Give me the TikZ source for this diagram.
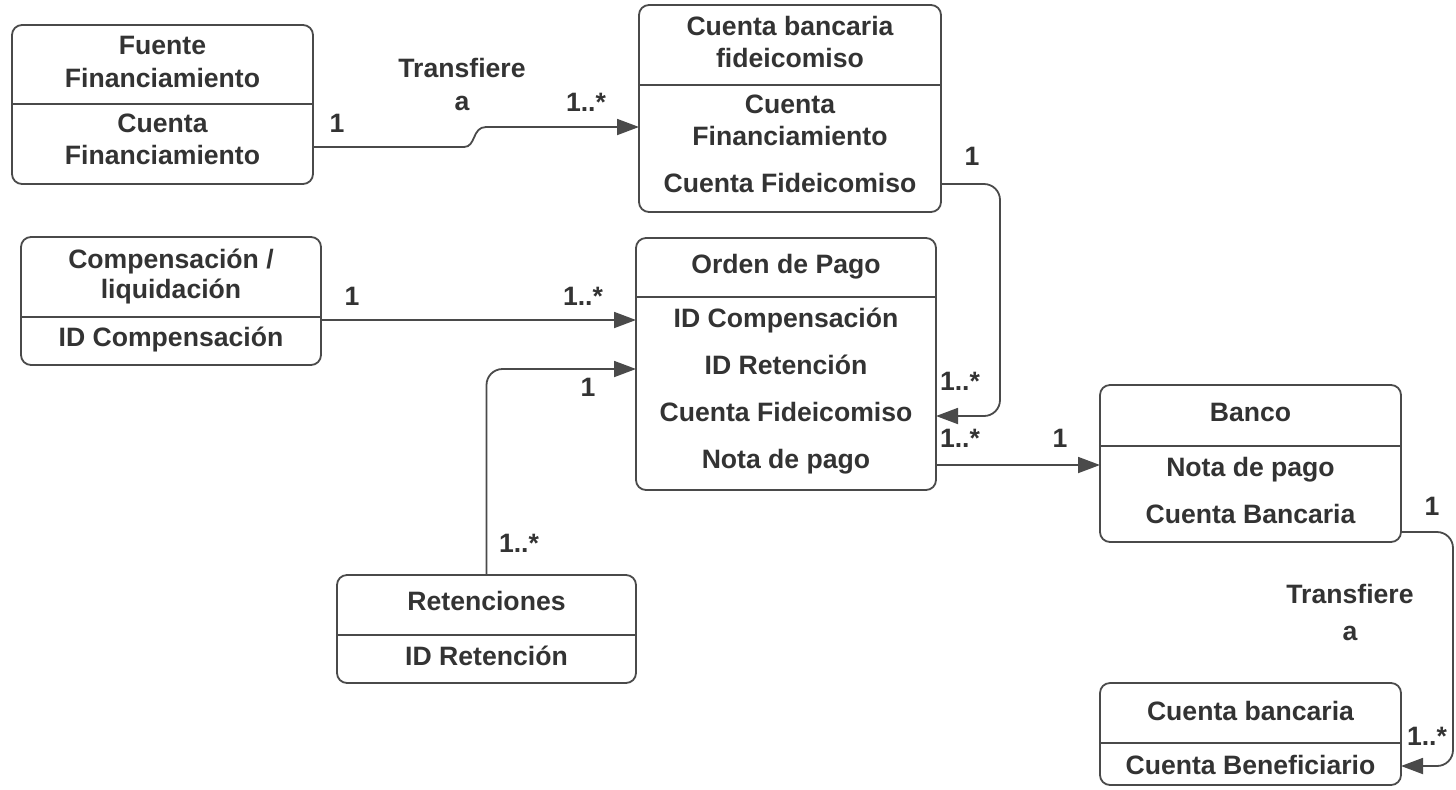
\documentclass[tikz,border=0pt]{standalone}
\usepackage{fontspec}
\setmainfont{Liberation Sans}
\usetikzlibrary{arrows.meta}
\definecolor{linec}{HTML}{4A4A4A}
\definecolor{textc}{HTML}{333333}
\tikzset{
  box/.style={draw=linec, line width=0.9pt, rounded corners=5pt, inner sep=0pt, outer sep=0pt},
  divider/.style={draw=linec, line width=0.8pt},
  txt/.style={anchor=base, inner sep=0pt, text=textc, font=\fontsize{13.3pt}{16pt}\selectfont\bfseries},
  conn/.style={draw=linec, line width=0.9pt, -{Triangle[length=11pt,width=8pt]}}
}
\begin{document}
\begin{tikzpicture}[x=0.5pt,y=-0.5pt]
\useasboundingbox (0,0) rectangle (1456,789);
% boxes
\node[box, minimum width=150.5pt, minimum height=79.5pt] (fuente) at (162.5,104.5) {};
\node[box, minimum width=151pt, minimum height=103.5pt] (fideic) at (790,108.5) {};
\node[box, minimum width=150pt, minimum height=64pt] (comp) at (171,301) {};
\node[box, minimum width=150pt, minimum height=126pt] (orden) at (786,364) {};
\node[box, minimum width=150.5pt, minimum height=78.5pt] (banco) at (1250.5,463.5) {};
\node[box, minimum width=149.5pt, minimum height=54pt] (ret) at (486.5,629) {};
\node[box, minimum width=150.5pt, minimum height=51pt] (cb) at (1250.5,734) {};
% dividers
\draw[divider] (fuente.west |- 0,104) -- (fuente.east |- 0,104);
\draw[divider] (fideic.west |- 0,85) -- (fideic.east |- 0,85);
\draw[divider] (comp.west |- 0,317) -- (comp.east |- 0,317);
\draw[divider] (orden.west |- 0,297) -- (orden.east |- 0,297);
\draw[divider] (banco.west |- 0,446) -- (banco.east |- 0,446);
\draw[divider] (ret.west |- 0,635) -- (ret.east |- 0,635);
\draw[divider] (cb.west |- 0,743) -- (cb.east |- 0,743);
% box texts
\node[txt] (t1a) at (162.5,54) {Fuente};
\node[txt] (t1b) at (162.5,87) {Financiamiento};
\node[txt] (t1c) at (162.5,132) {Cuenta};
\node[txt] (t1d) at (162.5,164) {Financiamiento};
\node[txt] (t2a) at (790,35) {Cuenta bancaria};
\node[txt] (t2b) at (790,67) {fideicomiso};
\node[txt] (t2c) at (790,113) {Cuenta};
\node[txt] (t2d) at (790,145) {Financiamiento};
\node[txt] (t2e) at (790,192) {Cuenta Fideicomiso};
\node[txt] (t3a) at (171,268) {Compensación /};
\node[txt] (t3b) at (171,298) {liquidación};
\node[txt] (t3c) at (171,346) {ID Compensación};
\node[txt] (t4a) at (786,273) {Orden de Pago};
\node[txt] (t4b) at (786,327) {ID Compensación};
\node[txt] (t4c) at (786,374) {ID Retención};
\node[txt] (t4d) at (786,421) {Cuenta Fideicomiso};
\node[txt] (t4e) at (786,468) {Nota de pago};
\node[txt] (t5a) at (1250.5,421) {Banco};
\node[txt] (t5b) at (1250.5,476) {Nota de pago};
\node[txt] (t5c) at (1250.5,523) {Cuenta Bancaria};
\node[txt] (t6a) at (486.5,610) {Retenciones};
\node[txt] (t6b) at (486.5,665) {ID Retención};
\node[txt] (t7a) at (1250.5,720) {Cuenta bancaria};
\node[txt] (t7b) at (1250.5,774) {Cuenta Beneficiario};
% connectors
\draw[conn] (fuente.east |- 0,147) -- (464,147) .. controls (476,147) and (472,127) .. (486,127) -- (fideic.west |- 0,127);
\draw[conn] (comp.east |- 0,320) -- (orden.west |- 0,320);
\draw[conn, rounded corners=8pt] (ret.north) |- (orden.west |- 0,369);
\draw[conn, rounded corners=8pt] (fideic.east |- 0,184) -- (1000,184) -- (1000,416) -- (orden.east |- 0,416);
\draw[conn] (orden.east |- 0,465) -- (banco.west |- 0,465);
\draw[conn, rounded corners=8pt] (banco.east |- 0,532) -- (1453,532) -- (1453,766) -- (cb.east |- 0,766);
% connector labels
\node[txt] (l1) at (462,77) {Transfiere};
\node[txt] (l2) at (462,110) {a};
\node[txt] (l3) at (337,132) {1};
\node[txt] (l4) at (586,111) {1..*};
\node[txt] (l5) at (352,305) {1};
\node[txt] (l6) at (583,305) {1..*};
\node[txt] (l7) at (588,396) {1};
\node[txt] (l8) at (519,552) {1..*};
\node[txt] (l9) at (972,165) {1};
\node[txt] (l10) at (960,390) {1..*};
\node[txt] (l11) at (960,447) {1..*};
\node[txt] (l12) at (1060,447) {1};
\node[txt] (l13) at (1432,515) {1};
\node[txt] (l14) at (1350,603) {Transfiere};
\node[txt] (l15) at (1350,640) {a};
\node[txt] (l16) at (1427,745) {1..*};
\end{tikzpicture}
\end{document}
